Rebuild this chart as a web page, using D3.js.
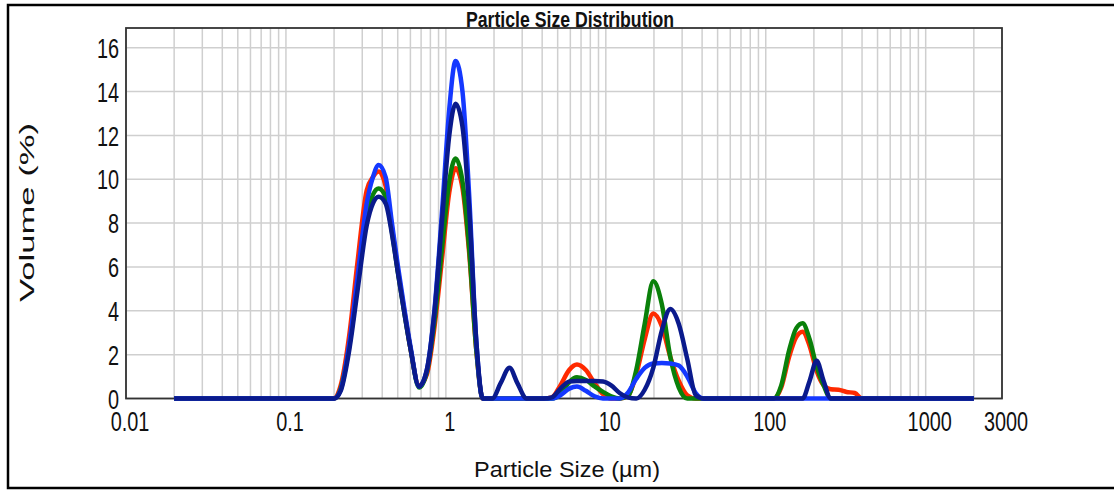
<!DOCTYPE html>
<html>
<head>
<meta charset="utf-8">
<script src="https://cdn.jsdelivr.net/npm/d3@7"></script>
<style>
  body { margin: 0; background: #fff; }
  text { font-family: "Liberation Sans", Arial, sans-serif; fill: #111; }
</style>
</head>
<body>
<div class="chart"></div>
<script>
// particle size bins (µm)
const sizes = [
  0.02, 0.2, 0.22, 0.25, 0.28, 0.32, 0.35, 0.38, 0.42, 0.46, 0.5, 0.55, 0.6, 0.68,
  0.76, 0.85, 0.95, 1.05, 1.15, 1.27, 1.4, 1.55, 1.7,
  1.95, 2.2, 2.5, 2.8, 3.2,
  3.6, 4.1, 4.6, 5.2, 5.9, 6.6, 7.5, 8.5, 9.6, 10.8, 12.2,
  13.7, 15.5, 17.5, 19.8, 22.4, 25.3, 28.6, 32.3, 36.5, 41,
  100, 112, 125, 140, 155, 170, 188, 208, 230, 255, 285, 320, 360, 400, 2000
];

// volume (%) per bin, one array per sample
const redValues = [
  0, 0, 0.6, 3.0, 6.2, 9.5, 10.1, 10.35, 9.7, 7.8, 5.9, 4.0, 2.3, 0.6,
  1.1, 3.3, 6.5, 9.4, 10.5, 9.6, 6.6, 2.2, 0,
  0, 0, 0, 0, 0,
  0, 0, 0.05, 0.6, 1.3, 1.55, 1.3, 0.7, 0.2, 0, 0,
  0.1, 1.1, 2.7, 3.88, 3.3, 1.9, 0.8, 0.15, 0, 0,
  0, 0, 0.5, 1.9, 2.8, 3.05, 2.4, 1.25, 0.6, 0.42, 0.4, 0.3, 0.25, 0, 0
];
const greenValues = [
  0, 0, 0.45, 2.5, 5.2, 8.3, 9.3, 9.58, 9.2, 7.6, 5.8, 3.9, 2.3, 0.5,
  1.2, 3.6, 7.0, 9.9, 10.95, 9.9, 6.8, 2.2, 0,
  0, 0, 0, 0, 0,
  0, 0, 0, 0.2, 0.75, 0.97, 0.85, 0.55, 0.3, 0.1, 0,
  0.1, 1.3, 3.4, 5.35, 4.3, 1.9, 0.5, 0, 0, 0,
  0, 0, 0.6, 2.2, 3.2, 3.43, 2.7, 1.45, 0.6, 0, 0, 0, 0, 0, 0
];
const blueValues = [
  0, 0, 0.4, 2.6, 5.5, 8.9, 10.1, 10.65, 10.1, 8.0, 6.1, 4.1, 2.4, 0.55,
  1.3, 4.1, 8.7, 13.2, 15.4, 14.0, 9.2, 2.6, 0,
  0, 0, 0, 0, 0,
  0, 0, 0, 0.15, 0.45, 0.55, 0.35, 0.1, 0, 0, 0,
  0.25, 0.9, 1.4, 1.6, 1.62, 1.6, 1.5, 1.0, 0.25, 0,
  0, 0, 0, 0, 0, 0, 0, 0, 0, 0, 0, 0, 0, 0, 0
];
const navyValues = [
  0, 0, 0.35, 2.3, 4.9, 7.9, 8.9, 9.2, 8.9, 7.5, 5.8, 3.9, 2.3, 0.55,
  1.3, 4.0, 8.3, 12.0, 13.45, 12.4, 8.6, 2.6, 0,
  0, 0.7, 1.4, 0.7, 0,
  0, 0, 0.05, 0.45, 0.77, 0.8, 0.8, 0.8, 0.78, 0.6, 0.25,
  0.05, 0, 0.4, 1.4, 3.1, 4.08, 3.4, 1.8, 0.15, 0,
  0, 0, 0, 0, 0, 0, 0.8, 1.72, 0.8, 0, 0, 0, 0, 0, 0
];

const seriesColors = ["#ff2a00", "#0a800a", "#1438ff", "#0a1a8c"];
const xTickValues = [0.01, 0.1, 1, 10, 100, 1000, 3000];
const yTickValues = [0, 2, 4, 6, 8, 10, 12, 14, 16];

const width = 1114;
const height = 490;
const plot = { left: 126, right: 1002, top: 28, bottom: 398.5 };

const x = d3.scaleLog().domain([0.01, 3000]).range([plot.left, plot.right]);
const y = d3.scaleLinear().domain([0, 16.9]).range([plot.bottom, plot.top]);

const svg = d3
  .select(".chart")
  .append("svg")
  .attr("width", width)
  .attr("height", height);

// outer frame
svg
  .append("rect")
  .attr("x", 8)
  .attr("y", 5)
  .attr("width", 1112)
  .attr("height", 483)
  .attr("fill", "none")
  .attr("stroke", "#000")
  .attr("stroke-width", 2.5);

// grid
svg
  .append("g")
  .selectAll("line")
  .data(x.ticks())
  .join("line")
  .attr("x1", (d) => x(d))
  .attr("x2", (d) => x(d))
  .attr("y1", plot.top)
  .attr("y2", plot.bottom)
  .attr("stroke", "#cfcfcf")
  .attr("stroke-width", 1.5);

svg
  .append("g")
  .selectAll("line")
  .data(yTickValues)
  .join("line")
  .attr("x1", plot.left)
  .attr("x2", plot.right)
  .attr("y1", (d) => y(d))
  .attr("y2", (d) => y(d))
  .attr("stroke", "#cfcfcf")
  .attr("stroke-width", 1.5);

// plot border
svg
  .append("rect")
  .attr("x", plot.left)
  .attr("y", plot.top)
  .attr("width", plot.right - plot.left)
  .attr("height", plot.bottom - plot.top)
  .attr("fill", "none")
  .attr("stroke", "#333")
  .attr("stroke-width", 1.8);

// tick labels (narrow, tall digits)
svg
  .append("g")
  .selectAll("text")
  .data(yTickValues)
  .join("text")
  .attr("transform", (d) => `translate(119,${y(d)}) scale(0.71,1)`)
  .attr("text-anchor", "end")
  .attr("dy", "0.36em")
  .style("font-size", "28px")
  .text((d) => d);

svg
  .append("g")
  .selectAll("text")
  .data(xTickValues)
  .join("text")
  .attr("transform", (d) => `translate(${x(d) + 4},431) scale(0.71,1)`)
  .attr("text-anchor", "middle")
  .style("font-size", "28px")
  .text((d) => d);

// lines
const line = d3
  .line()
  .x((d) => x(d[0]))
  .y((d) => y(d[1]))
  .curve(d3.curveMonotoneX);

const allSeries = [redValues, greenValues, blueValues, navyValues];
svg
  .append("g")
  .selectAll("path")
  .data(allSeries)
  .join("path")
  .attr("d", (vals) => line(sizes.map((s, i) => [s, vals[i]])))
  .attr("fill", "none")
  .attr("stroke", (d, i) => seriesColors[i])
  .attr("stroke-width", 4.5)
  .attr("stroke-linejoin", "round");

// titles
svg
  .append("text")
  .attr("x", 570)
  .attr("y", 26.5)
  .attr("text-anchor", "middle")
  .attr("textLength", 208)
  .attr("lengthAdjust", "spacingAndGlyphs")
  .style("font-size", "22px")
  .style("font-weight", "bold")
  .text("Particle Size Distribution");

svg
  .append("text")
  .attr("x", 567)
  .attr("y", 477)
  .attr("text-anchor", "middle")
  .attr("textLength", 186)
  .attr("lengthAdjust", "spacingAndGlyphs")
  .style("font-size", "22px")
  .text("Particle Size (µm)");

svg
  .append("text")
  .attr("transform", "translate(34,212.5) rotate(-90)")
  .attr("text-anchor", "middle")
  .attr("textLength", 179)
  .attr("lengthAdjust", "spacingAndGlyphs")
  .style("font-size", "21px")
  .text("Volume (%)");
</script>
</body>
</html>
